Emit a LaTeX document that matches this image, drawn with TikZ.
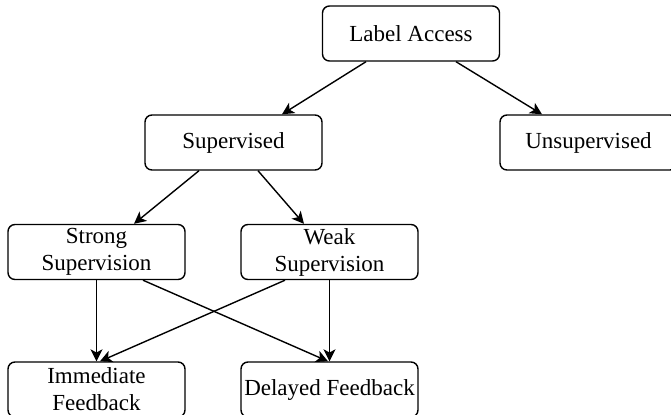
\documentclass[tikz,border=0pt]{standalone}
\usepackage{fontspec}
\setmainfont{Liberation Serif}
\usetikzlibrary{arrows.meta}

\tikzstyle{block} = [rectangle, draw, line width=0.7pt, align=center, rounded corners=3.5pt, minimum width=88.5pt, minimum height=27.5pt, inner sep=0pt, font=\fontsize{11.5}{13.5}\selectfont]
\tikzstyle{arrow} = [line width=0.7pt, -{Stealth[length=6pt, width=6pt, inset=1.6pt]}]

\begin{document}
\begin{tikzpicture}[x=0.5pt, y=-0.5pt]
\useasboundingbox (0,0) rectangle (671,414);
\clip (0,0) rectangle (671,414);

\node (labelAccess) [block] at (411,33.5) {Label Access};
\node (supervised) [block] at (233.5,142.5) {Supervised};
\node (unsupervised) [block] at (588.5,142.5) {Unsupervised};
\node (strongSup) [block] at (96.5,252) {Strong\\Supervision};
\node (weakSup) [block] at (329.5,252) {Weak\\Supervision};
\node (immediateFb) [block] at (96.5,389.5) {Immediate\\Feedback};
\node (delayedFb) [block] at (329.5,389.5) {Delayed Feedback};

\draw [arrow] ([xshift=-22.5pt]labelAccess.south) -- ([xshift=24.25pt]supervised.north);
\draw [arrow] ([xshift=22.5pt]labelAccess.south) -- ([xshift=-23.25pt]unsupervised.north);
\draw [arrow] ([xshift=-17.25pt]supervised.south) -- ([xshift=18.75pt]strongSup.north);
\draw [arrow] ([xshift=12.25pt]supervised.south) -- ([xshift=-12.75pt]weakSup.north);
\draw [arrow] (strongSup.south) -- (immediateFb.north);
\draw [arrow] ([xshift=23.25pt]strongSup.south) -- ([xshift=-0.75pt]delayedFb.north);
\draw [arrow] ([xshift=-22.25pt]weakSup.south) -- ([xshift=1.75pt]immediateFb.north);
\draw [arrow] (weakSup.south) -- (delayedFb.north);
\end{tikzpicture}
\end{document}
